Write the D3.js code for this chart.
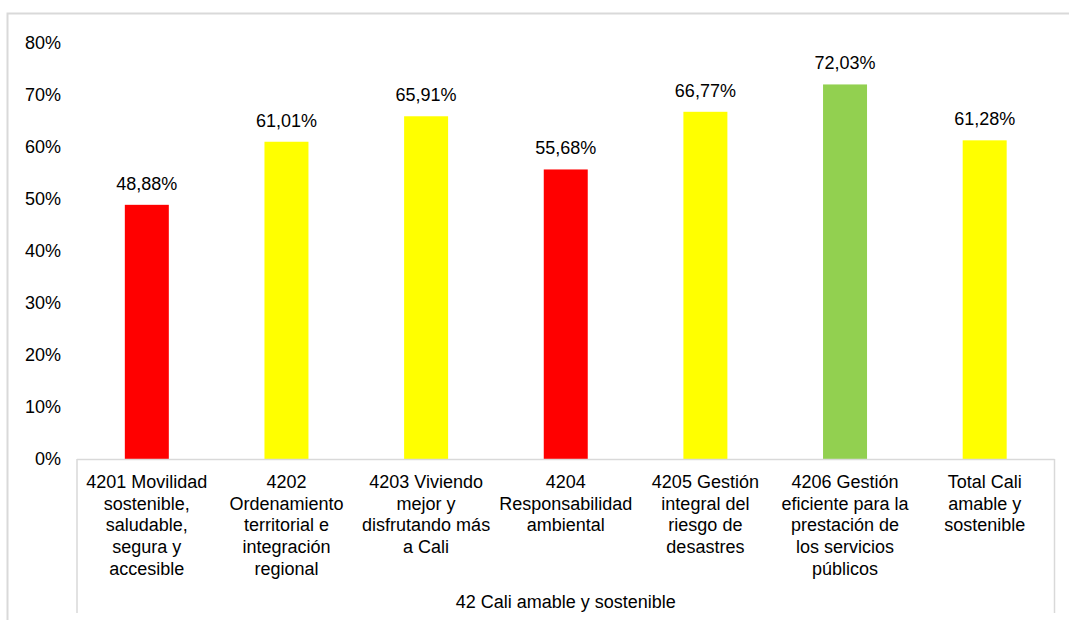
<!DOCTYPE html>
<html>
<head>
<meta charset="utf-8">
<script src="https://cdn.jsdelivr.net/npm/d3@7"></script>
<style>
  html, body { margin: 0; padding: 0; background: #fff; }
  svg { display: block; font-family: "Liberation Sans", Arial, sans-serif; }
</style>
</head>
<body>
<svg id="chart" width="1069" height="620"></svg>
<script>
const categories = [
  ["4201 Movilidad", "sostenible,", "saludable,", "segura y", "accesible"],
  ["4202", "Ordenamiento", "territorial e", "integración", "regional"],
  ["4203 Viviendo", "mejor y", "disfrutando más", "a Cali"],
  ["4204", "Responsabilidad", "ambiental"],
  ["4205 Gestión", "integral del", "riesgo de", "desastres"],
  ["4206 Gestión", "eficiente para la", "prestación de", "los servicios", "públicos"],
  ["Total Cali", "amable y", "sostenible"]
];
const values = [48.88, 61.01, 65.91, 55.68, 66.77, 72.03, 61.28];
const barColors = ["#FF0000", "#FFFF00", "#FFFF00", "#FF0000", "#FFFF00", "#92D050", "#FFFF00"];
const yTicks = [0, 10, 20, 30, 40, 50, 60, 70, 80];
const groupLabel = "42 Cali amable y sostenible";

(function () {
const svg = d3.select("#chart");
const pLeft = 77, pRight = 1054.5, pTop = 43, pBottom = 459;
const fontSize = 18;

// outer border (extends past right/bottom edges)
svg.append("rect")
  .attr("x", 7.5).attr("y", 13.5)
  .attr("width", 1200).attr("height", 800)
  .attr("fill", "none").attr("stroke", "#d9d9d9").attr("stroke-width", 2);

const x = d3.scaleBand().domain(d3.range(categories.length))
  .range([pLeft, pRight]).paddingInner(0.685).paddingOuter(0.3425);
const y = d3.scaleLinear().domain([0, 80]).range([pBottom, pTop]);

// y axis labels
const yAxis = d3.axisLeft(y).tickValues(yTicks).tickSize(0).tickPadding(16)
  .tickFormat(d => d + "%");
const ya = svg.append("g").attr("transform", `translate(${pLeft},0)`).call(yAxis);
ya.select(".domain").remove();
ya.selectAll("text").attr("font-size", fontSize).attr("fill", "#000")
  .attr("font-family", "Liberation Sans, Arial, sans-serif");

// bars
svg.append("g").selectAll("rect").data(values).join("rect")
  .attr("x", (d, i) => x(i)).attr("width", x.bandwidth())
  .attr("y", d => y(d)).attr("height", d => y(0) - y(d))
  .attr("fill", (d, i) => barColors[i]);

// value labels
svg.append("g").selectAll("text").data(values).join("text")
  .attr("x", (d, i) => x(i) + x.bandwidth() / 2)
  .attr("y", d => y(d) - 15)
  .attr("text-anchor", "middle").attr("font-size", fontSize).attr("fill", "#000")
  .text(d => d.toFixed(2).replace(".", ",") + "%");

// x axis baseline and group dividers
const axisColor = "#d9d9d9";
svg.append("line").attr("x1", pLeft).attr("x2", pRight)
  .attr("y1", pBottom + 0.5).attr("y2", pBottom + 0.5)
  .attr("stroke", axisColor).attr("stroke-width", 1.5);
[pLeft, pRight].forEach(xx => {
  svg.append("line").attr("x1", xx).attr("x2", xx)
    .attr("y1", pBottom).attr("y2", 613)
    .attr("stroke", axisColor).attr("stroke-width", 1.5);
});

// category labels
const lineH = 21.7;
const catG = svg.append("g");
categories.forEach((lines, i) => {
  const t = catG.append("text")
    .attr("text-anchor", "middle").attr("font-size", fontSize).attr("fill", "#000");
  lines.forEach((ln, j) => {
    t.append("tspan").attr("x", x(i) + x.bandwidth() / 2)
      .attr("y", 488 + j * lineH).text(ln);
  });
});

// group label
svg.append("text").attr("x", (pLeft + pRight) / 2).attr("y", 608)
  .attr("text-anchor", "middle").attr("font-size", fontSize).attr("fill", "#000")
  .text(groupLabel);
})();
</script>
</body>
</html>
